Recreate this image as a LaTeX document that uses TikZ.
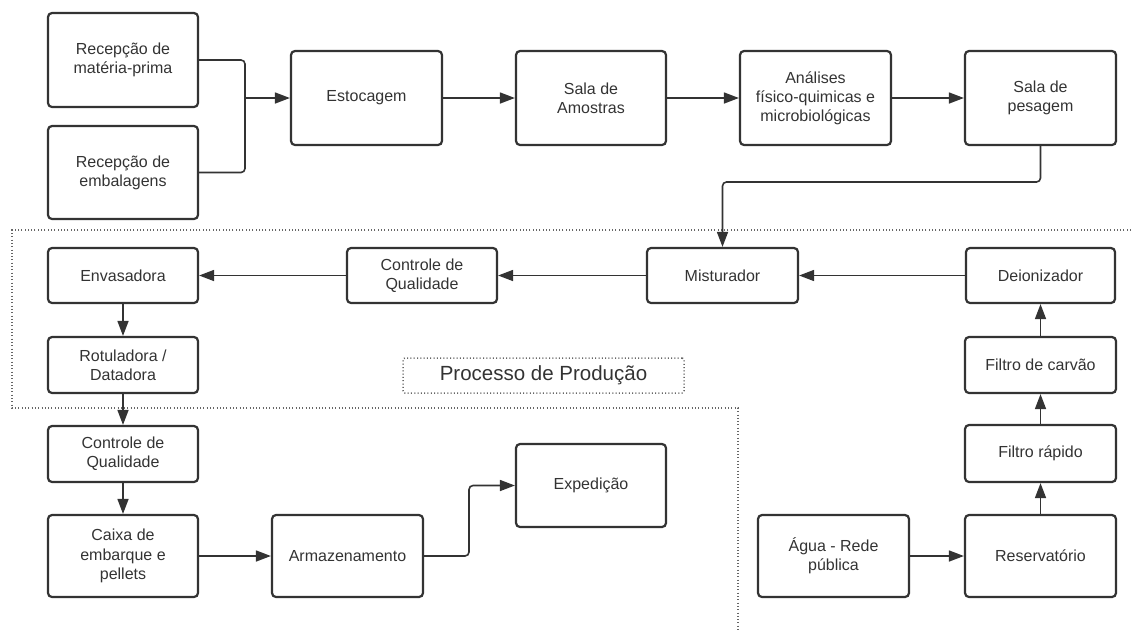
\documentclass[tikz,border=0pt]{standalone}
\usepackage{fontspec}
\setmainfont{Liberation Sans}
\usetikzlibrary{arrows.meta}
\definecolor{ink}{HTML}{333333}
\definecolor{dotc}{HTML}{666666}
\tikzset{
  box/.style={draw=ink, text=ink, line width=2.2pt, rounded corners=4pt, align=center,
    inner sep=0pt, minimum width=150pt, font=\fontsize{16}{19.2}\selectfont},
  conn/.style={draw=ink, line width=1.6pt, rounded corners=4pt},
  arr/.style={conn, -{Triangle[length=15pt,width=11pt]}},
  dotline/.style={draw=dotc, line width=1.5pt, dash pattern=on 1pt off 2.3pt},
}
\begin{document}
\begin{tikzpicture}[x=1pt,y=-1pt]
\useasboundingbox (0,0) rectangle (1131,630);
% top row
\node[box, minimum height=94pt] (mp) at (123,60) {Recepção de\\matéria-prima};
\node[box, minimum height=93pt] (emb) at (123,172.5) {Recepção de\\embalagens};
\node[box, minimum height=94pt, minimum width=151pt] (est) at (366.5,98) {Estocagem};
\node[box, minimum height=94pt] (ams) at (591,98) {Sala de\\Amostras};
\node[box, minimum height=94pt, minimum width=151pt] (ana) at (815.5,98) {Análises\\físico-quimicas e\\microbiológicas};
\node[box, minimum height=94pt, minimum width=151pt] (pes) at (1040.5,98) {Sala de\\pesagem};
% production row
\node[box, minimum height=55pt] (env) at (123,275.5) {Envasadora};
\node[box, minimum height=56pt] (rot) at (123,365) {Rotuladora /\\Datadora};
\node[box, minimum height=55pt] (cq1) at (422,275.5) {Controle de\\Qualidade};
\node[box, minimum height=55pt, minimum width=151pt] (mis) at (722.5,275.5) {Misturador};
\node[box, minimum height=55pt, minimum width=149pt] (dei) at (1040.5,275.5) {Deionizador};
\node[box, minimum height=56pt, minimum width=151pt] (fcv) at (1040.5,365) {Filtro de carvão};
\node[box, minimum height=57pt, minimum width=151pt] (frp) at (1040.5,453.5) {Filtro rápido};
\node[box, minimum height=82pt, minimum width=151pt] (res) at (1040.5,556) {Reservatório};
\node[box, minimum height=82pt, minimum width=151pt] (agua) at (833.5,556) {Água - Rede\\pública};
% bottom left
\node[box, minimum height=56pt] (cq2) at (123,454) {Controle de\\Qualidade};
\node[box, minimum height=82pt] (cx) at (123,556) {Caixa de\\embarque e\\pellets};
\node[box, minimum height=82pt, minimum width=151pt] (arm) at (347.5,556) {Armazenamento};
\node[box, minimum height=83pt] (exp) at (591,485.5) {Expedição};
% region label
\node[draw=dotc, line width=1.5pt, dash pattern=on 1pt off 2.3pt, rounded corners=2pt,
  minimum width=281pt, minimum height=35pt, inner sep=0pt, text=ink,
  font=\fontsize{20.5}{24}\selectfont] (lbl) at (543.5,375.5) {Processo de Produção};
% dotted region outline
\draw[dotline] (1131,230) -- (12,230) -- (12,408) -- (738,408) -- (738,630);
% connectors
\coordinate (j) at (245,98);
\draw[conn] (mp.east) -| (j);
\draw[conn] (emb.east) -| (j);
\draw[arr] (j) -- (est.west);
\draw[arr] (est.east) -- (ams.west);
\draw[arr] (ams.east) -- (ana.west);
\draw[arr] (ana.east) -- (pes.west);
\coordinate (k) at (722.5,182);
\draw[arr] (pes.south) |- (k) -- (mis.north);
\draw[arr] (mis.west) -- (cq1.east);
\draw[arr] (cq1.west) -- (env.east);
\draw[arr] (dei.west) -- (mis.east);
\draw[arr] (env.south) -- (rot.north);
\draw[arr] (rot.south) -- (cq2.north);
\draw[arr] (cq2.south) -- (cx.north);
\draw[arr] (cx.east) -- (arm.west);
\coordinate (m) at (469,485.5);
\draw[arr] (arm.east) -| (m) -- (exp.west);
\draw[arr] (agua.east) -- (res.west);
\draw[arr] (res.north) -- (frp.south);
\draw[arr] (frp.north) -- (fcv.south);
\draw[arr] (fcv.north) -- (dei.south);
\end{tikzpicture}
\end{document}
